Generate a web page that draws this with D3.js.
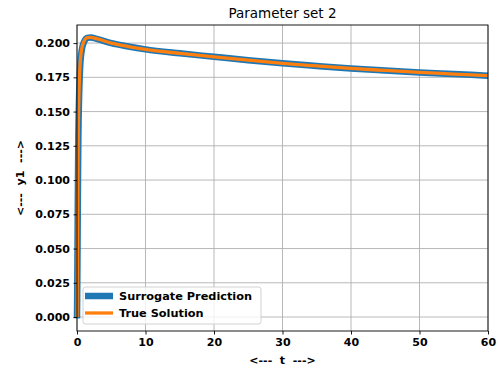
<!DOCTYPE html>
<html>
<head>
<meta charset="utf-8">
<script src="https://cdnjs.cloudflare.com/ajax/libs/d3/7.8.5/d3.min.js"></script>
<style>
  body { margin: 0; background: #fff; }
  text { font-family: "DejaVu Sans", sans-serif; }
</style>
</head>
<body>
<div id="viz"></div>
<script>
const width = 498;
const height = 376;
const margins = { left: 77, right: 10, top: 25, bottom: 45 };
const visWidth = width - margins.left - margins.right;
const visHeight = height - margins.top - margins.bottom;

// values
const tValues = [0, 0.05, 0.1, 0.15, 0.2, 0.3, 0.4, 0.5, 0.7, 1.0, 1.5, 2, 3, 5, 7.5, 10, 15, 20, 25, 30, 35, 40, 45, 50, 55, 60];
const trueY = [0.0, 0.04, 0.08, 0.115, 0.14, 0.165, 0.18, 0.188, 0.196, 0.201, 0.204, 0.2042, 0.203, 0.2, 0.1975, 0.1954, 0.1925, 0.19, 0.1875, 0.1852, 0.1833, 0.1815, 0.18, 0.1786, 0.1774, 0.1762];
const surrogateY = [-0.001, 0.03, 0.068, 0.105, 0.132, 0.16, 0.176, 0.186, 0.195, 0.2005, 0.2038, 0.2041, 0.2029, 0.2, 0.1975, 0.1954, 0.1925, 0.19, 0.1875, 0.1852, 0.1833, 0.1815, 0.18, 0.1786, 0.1774, 0.1762];
const xTicks = [0, 10, 20, 30, 40, 50, 60];
const yTicks = [0, 0.025, 0.05, 0.075, 0.1, 0.125, 0.15, 0.175, 0.2];
const seriesNames = ["Surrogate Prediction", "True Solution"];

const svg = d3.select('#viz')
    .append("svg")
    .attr('width', width)
    .attr('height', height);

const g = svg.append("g")
    .attr("transform", `translate(${margins.left}, ${margins.top})`);

const xScale = d3.scaleLinear().domain([0, 60]).range([0, visWidth]);
const yScale = d3.scaleLinear().domain([-0.0102, 0.2132]).range([visHeight, 0]);

// grid
g.append("g")
    .selectAll("line")
    .data(xTicks)
    .join("line")
    .attr("x1", d => xScale(d)).attr("x2", d => xScale(d))
    .attr("y1", 0).attr("y2", visHeight)
    .attr("stroke", "#b0b0b0").attr("stroke-width", 0.9);

g.append("g")
    .selectAll("line")
    .data(yTicks)
    .join("line")
    .attr("x1", 0).attr("x2", visWidth)
    .attr("y1", d => yScale(d)).attr("y2", d => yScale(d))
    .attr("stroke", "#b0b0b0").attr("stroke-width", 0.9);

// lines
const pts = (ys) => tValues.map((t, i) => [t, ys[i]]);
const line = d3.line()
    .x(d => xScale(d[0]))
    .y(d => yScale(d[1]))
    .curve(d3.curveMonotoneX);

g.append("path")
    .attr("d", line(pts(surrogateY)))
    .attr("fill", "none")
    .attr("stroke", "#1f77b4")
    .attr("stroke-width", 6.5);

g.append("path")
    .attr("d", line(pts(trueY)))
    .attr("fill", "none")
    .attr("stroke", "#ff7f0e")
    .attr("stroke-width", 3.3);

// axes
const xAxis = g.append("g")
    .attr("transform", `translate(0, ${visHeight})`)
    .call(d3.axisBottom(xScale).tickValues(xTicks).tickFormat(d3.format("d")).tickSizeOuter(0).tickSize(3.5).tickPadding(3.5));

const yAxis = g.append("g")
    .call(d3.axisLeft(yScale).tickValues(yTicks).tickFormat(d3.format(".3f")).tickSizeOuter(0).tickSize(3.5).tickPadding(3.5));

[xAxis, yAxis].forEach(a => {
    a.select(".domain").remove();
    a.selectAll("text")
        .attr("font-family", "DejaVu Sans")
        .attr("font-weight", "bold")
        .attr("font-size", 11)
        .attr("fill", "#000");
    a.selectAll("line").attr("stroke", "#000").attr("stroke-width", 0.9);
});

// spines
g.append("rect")
    .attr("x", 0).attr("y", 0)
    .attr("width", visWidth).attr("height", visHeight)
    .attr("fill", "none")
    .attr("stroke", "#000")
    .attr("stroke-width", 0.9);

// title and labels
svg.append("text")
    .attr("x", margins.left + visWidth / 2)
    .attr("y", 18)
    .attr("text-anchor", "middle")
    .attr("font-size", 13.5)
    .text("Parameter set 2");

svg.append("text")
    .attr("x", margins.left + visWidth / 2)
    .attr("y", 364)
    .attr("text-anchor", "middle")
    .attr("font-size", 11)
    .attr("font-weight", "bold")
    .attr("xml:space", "preserve")
    .text("<---  t  --->");

svg.append("text")
    .attr("transform", `translate(24, ${margins.top + visHeight / 2}) rotate(-90)`)
    .attr("text-anchor", "middle")
    .attr("font-size", 11)
    .attr("font-weight", "bold")
    .attr("xml:space", "preserve")
    .text("<---  y1  --->");

// legend
const legend = g.append("g").attr("transform", "translate(6, 262)");
legend.append("rect")
    .attr("width", 178).attr("height", 37)
    .attr("rx", 2.5)
    .attr("fill", "#fff").attr("fill-opacity", 0.8)
    .attr("stroke", "#cccccc").attr("stroke-width", 0.9);

const widths = [6.5, 3.3];
const colors = ["#1f77b4", "#ff7f0e"];
seriesNames.forEach((name, i) => {
    const yy = 9 + i * 17;
    legend.append("line")
        .attr("x1", 2).attr("x2", 30)
        .attr("y1", yy).attr("y2", yy)
        .attr("stroke", colors[i])
        .attr("stroke-width", widths[i]);
    legend.append("text")
        .attr("x", 36).attr("y", yy + 4)
        .attr("font-size", 11.3)
        .attr("font-weight", "bold")
        .text(name);
});
</script>
</body>
</html>
